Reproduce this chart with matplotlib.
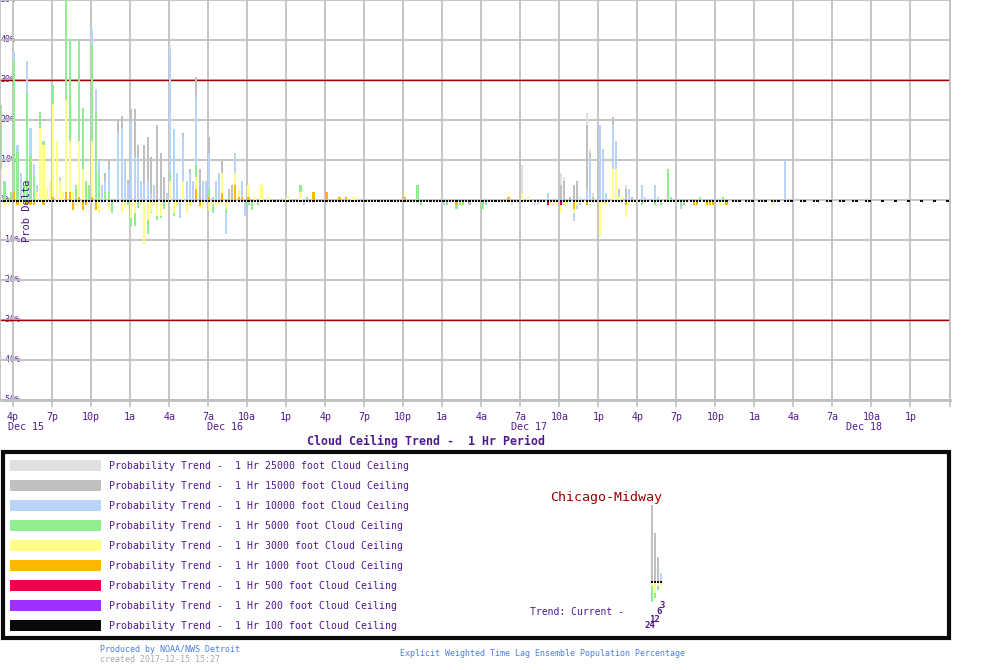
import matplotlib
matplotlib.use("Agg")
import matplotlib.pyplot as plt
from matplotlib.patches import Rectangle

plt.rcParams["font.family"] = ["DejaVu Sans Mono"]

PURPLE = "#4f1a8f"
DARKRED = "#a00000"
GRID = "#c0c0c0"

# bars are every 15 minutes, slot k -> hours after 3p Dec 15
SLOT_HOURS = 0.25

tick_hours = [1, 4, 7, 10, 13, 16, 19, 22, 25, 28, 31, 34, 37, 40, 43, 46, 49, 52, 55, 58, 61, 64, 67, 70]
tick_labels = ["4p", "7p", "10p", "1a", "4a", "7a", "10a", "1p",
               "4p", "7p", "10p", "1a", "4a", "7a", "10a", "1p",
               "4p", "7p", "10p", "1a", "4a", "7a", "10a", "1p"]
date_labels = ["Dec 15", "Dec 16", "Dec 17", "Dec 18"]
date_hours = [2.0, 17.3, 40.7, 66.4]

series_names = ["25000", "15000", "10000", "5000", "3000", "1000", "500", "200", "100"]
series_colors = ["#e0e0e0", "#c0c0c0", "#b8d4f8", "#90ee90", "#ffff88",
                 "#ffb800", "#f0004c", "#a030ff", "#0a0a0a"]

# (slot, prob delta %)
ceil_25000 = [(52, 38.8), (157, -1.2), (160, 8.8), (164, -1.2), (165, -1.2), (172, 6.8),
              (173, 5.8), (178, 0.8), (180, 21.8), (181, 12.8), (182, 1.8), (192, 3.8)]
ceil_15000 = [(32, 6.8), (33, 9.9), (36, 19.9), (37, 20.9), (39, 4.9), (40, 22.8), (41, 22.8),
              (42, 13.8), (44, 13.8), (45, 15.8), (46, 10.8), (48, 18.8), (49, 11.8), (50, 5.8),
              (56, 16.8), (58, 7.8), (60, 30.8), (61, 7.8), (64, 15.8), (68, 9.8), (70, 2.8),
              (71, 3.8), (144, -1.2), (172, 3.8), (173, 4.8), (175, 0.8), (176, 3.8), (177, 4.8),
              (180, 18.8), (181, 11.8), (182, 0.8), (188, 20.8), (190, 2.8), (192, 2.8), (194, 0.8)]
ceil_10000 = [(4, 36.9), (5, 13.8), (6, 6.8), (8, 34.8), (9, 17.9), (10, 8.9), (11, 3.8), (18, 5.8),
              (28, 42.8), (29, 27.8), (30, 9.9), (31, 3.8), (32, 4.8), (33, 7.8), (36, 16.9),
              (37, 17.9), (38, 9.9), (39, 3.8), (40, 19.8), (41, 10.8), (42, 10.8), (43, 4.8),
              (44, 3.8), (45, 4.8), (46, 1.8), (47, 3.8), (51, 1.8), (52, 37.7), (53, 17.8),
              (54, 6.8), (55, -4.4), (56, 15.8), (57, 4.8), (58, 6.8), (59, 4.8), (60, 25.8),
              (62, 4.8), (63, 4.8), (64, 11.8), (65, 0.8), (66, 4.8), (67, 6.8), (69, -8.5),
              (72, 11.8), (74, 4.8), (75, -4.1), (93, -1.2), (136, -1.2), (168, 1.8), (176, -5.3),
              (177, -2.3), (178, -1.3), (180, 2.8), (181, 10.8), (184, 18.8), (185, 12.8),
              (186, 1.8), (188, 18.8), (189, 14.8), (190, 1.8), (193, 2.8), (197, 3.8), (198, 0.8),
              (201, 3.8), (202, 0.8), (209, -2.3), (241, 9.8)]
ceil_5000 = [(0, 23.8), (1, 4.8), (3, 1.9), (4, 34.7), (5, 11.9), (7, 3.8), (8, 26.8), (9, 10.9),
             (10, 5.9), (12, 21.9), (13, 14.8), (16, 28.8), (20, 50.0), (21, 39.9), (23, 3.8),
             (24, 39.9), (25, 22.9), (26, 4.8), (27, 3.8), (28, 38.8), (29, 21.9), (30, 6.8),
             (32, 1.9), (33, 1.9), (34, -3.3), (39, -1.2), (40, -6.4), (41, -6.4), (42, -2.0),
             (45, -8.5), (46, -3.3), (48, -5.0), (49, -4.5), (50, -2.3), (52, 6.8), (53, -4.0),
             (60, 8.8), (64, 2.8), (65, -3.3), (69, -3.3), (76, -1.2), (77, -2.4), (79, -1.2),
             (92, 3.8), (94, 0.8), (128, 3.8), (129, -1.2), (137, -1.2), (140, -2.3), (141, -1.2),
             (142, -1.2), (148, -2.3), (149, -1.2), (197, -1.3), (201, -1.3), (203, -1.3),
             (205, 7.8), (206, 0.8), (209, -1.3), (210, -1.3), (215, 0.8), (222, 0.8)]
ceil_3000 = [(0, 7.8), (1, -1.2), (2, -1.2), (6, -1.2), (7, -1.2), (11, 1.9), (12, 17.9), (13, 13.8),
             (14, 2.9), (15, 4.8), (16, 23.9), (17, 14.8), (18, 4.8), (19, 1.9), (20, 24.9),
             (21, 14.8), (22, 1.9), (23, -1.2), (24, 14.8), (25, 7.8), (28, 14.8), (30, -3.3),
             (33, -2.5), (37, -3.3), (38, -2.0), (40, -4.5), (41, -3.3), (43, -1.2), (44, -11.0),
             (45, -5.0), (46, -3.0), (47, -1.2), (48, -4.0), (49, -4.0), (52, 4.8), (53, -3.3),
             (54, -1.5), (56, 4.8), (57, -3.3), (58, -1.5), (60, 5.8), (61, -2.0), (62, -2.3),
             (64, -2.5), (65, -1.2), (66, -1.2), (67, -1.2), (68, 6.8), (69, -2.3), (70, -1.2),
             (72, 6.8), (73, 2.8), (76, 3.8), (78, 0.8), (80, 3.8), (82, 0.8), (88, 0.8), (92, 1.9),
             (108, 0.8), (109, 0.8), (160, 1.8), (162, 0.8), (169, -1.2), (170, -1.2), (171, -1.2),
             (172, -3.3), (173, -1.2), (174, -1.2), (176, -3.3), (177, -1.2), (184, -9.3),
             (185, -1.3), (186, -1.3), (188, 7.8), (189, 7.8), (190, 0.8), (191, 0.8), (192, -4.3),
             (193, -1.3), (221, -1.3), (237, -1.3)]
ceil_1000 = [(4, 1.9), (5, -1.2), (8, -1.2), (9, -1.2), (10, -1.2), (13, -1.2), (16, 0.8), (20, 1.9),
             (21, 1.9), (22, -2.5), (24, 0.8), (25, -2.5), (26, -1.2), (28, 0.8), (29, -2.5),
             (60, 2.8), (61, -1.4), (64, 0.8), (68, 1.8), (72, 3.8), (73, 0.8), (74, 0.8), (76, 0.8),
             (96, 1.9), (100, 1.9), (104, 0.8), (106, 0.8), (124, 0.8), (140, -1.2), (156, 0.8),
             (176, -2.3), (180, -1.3), (192, -1.3), (213, -1.3), (214, -1.3), (217, -1.3),
             (218, -1.3), (219, -1.3), (223, -1.3)]
ceil_500 = [(168, -1.3), (172, -1.3)]
ceil_200 = []
# 100 ft: a small negative tick in every slot up to slot 223, then thinning out
ceil_100_slots = list(range(0, 224)) + [225, 226, 227, 229, 230, 231, 233, 234, 235, 237, 238, 239,
                                        241, 242, 243, 246, 247, 250, 251, 254, 255, 258, 259,
                                        262, 263, 266, 267, 271, 275, 279, 283, 287, 291]
ceil_100 = [(k, -0.5) for k in ceil_100_slots]

all_series = [ceil_25000, ceil_15000, ceil_10000, ceil_5000, ceil_3000,
              ceil_1000, ceil_500, ceil_200, ceil_100]

# current trend inset (lags 24, 12, 6, 3 hr)
mini_lags = ["24", "12", "6", "3"]
mini_15000 = [18.9, 11.9, 5.9, 0.0]
mini_10000 = [0.0, 0.0, 0.0, 1.9]
mini_5000 = [-5.25, -4.25, -2.3, 0.0]
mini_3000 = [-1.3, -3.1, -1.3, -1.3]
mini_100 = [-0.5, -0.5, -0.5, -0.5]


def px(x0, y0, x1, y1):
    return [x0 / 1000, 1 - y1 / 670, (x1 - x0) / 1000, (y1 - y0) / 670]


fig = plt.figure(figsize=(10, 6.7), dpi=100)
ax = fig.add_axes(px(0, 0, 949.5, 400))
ax.set_xlim(0, 73)
ax.set_ylim(-50, 50)
ax.set_axisbelow(True)
ax.set_xticks(tick_hours + [73])
ax.set_xticklabels(tick_labels + [""], color=PURPLE, fontsize=7.2)
ax.set_yticks(range(-50, 51, 10))
ax.grid(color=GRID, lw=1.3)
ax.tick_params(axis="x", length=5, color=GRID, width=1.2, pad=4)
ax.tick_params(axis="y", left=False, labelleft=False)
ax.spines["top"].set_visible(False)
for s in ["left", "right"]:
    ax.spines[s].set_color(GRID)
    ax.spines[s].set_linewidth(1.3)
ax.spines["bottom"].set_color(GRID)
ax.spines["bottom"].set_linewidth(2)

for data, color in zip(all_series, series_colors):
    if not data:
        continue
    xs = [SLOT_HOURS * k + 0.1 for k, _ in data]
    vs = [v for _, v in data]
    ax.bar(xs, vs, width=0.165, color=color, linewidth=0, antialiased=False, zorder=2)

ax.axhline(30, color=DARKRED, lw=1.0, zorder=1.5)
ax.axhline(-30, color=DARKRED, lw=1.0, zorder=1.5)

for v in range(-50, 51, 10):
    ax.text(0.05, v, f"{v}%", fontsize=6, color=PURPLE, ha="left", va="center", zorder=0.1)
ax.text(2.1, -2.7, "Prob Delta", rotation=90, fontsize=7.5, color=PURPLE,
        ha="center", va="center", zorder=5)

for lab, h in zip(date_labels, date_hours):
    ax.text(h, -0.0675, lab, transform=ax.get_xaxis_transform(), ha="center", va="center",
            fontsize=7.2, color=PURPLE)

fig.text(0.426, 1 - 441 / 670, "Cloud Ceiling Trend -  1 Hr Period", ha="center", va="center",
         fontsize=8.4, fontweight="bold", color=PURPLE)

# legend box
fig.patches.append(Rectangle((3 / 1000, 1 - 638 / 670), 946 / 1000, 186 / 670,
                             transform=fig.transFigure, fill=False, lw=3, ec="#0a0a0a"))
for i, (name, color) in enumerate(zip(series_names, series_colors)):
    fig.patches.append(Rectangle((10 / 1000, 1 - (471 + 20 * i) / 670), 91 / 1000, 11 / 670,
                                 transform=fig.transFigure, fc=color, ec="none"))
    fig.text(109 / 1000, 1 - (466 + 20 * i) / 670,
             f"Probability Trend -  1 Hr {name} foot Cloud Ceiling",
             ha="left", va="center", fontsize=7.1, color=PURPLE)

fig.text(606 / 1000, 1 - 498 / 670, "Chicago-Midway", ha="center", va="center",
         fontsize=9.6, color=DARKRED)

mini = fig.add_axes(px(645, 500, 668, 610))
mini.set_xlim(-2.33, 5.33)
mini.set_ylim(-7.3, 20.2)
mini.axis("off")
mx = range(len(mini_lags))
for vals, color in [(mini_15000, series_colors[1]), (mini_10000, series_colors[2]),
                    (mini_5000, series_colors[3]), (mini_3000, series_colors[4]),
                    (mini_100, series_colors[8])]:
    mini.bar(mx, vals, width=0.67, color=color, linewidth=0, antialiased=False)

fig.text(530 / 1000, 1 - 612 / 670, "Trend: Current -", ha="left", va="center",
         fontsize=7, color=PURPLE)
for lab, (x, y) in zip(mini_lags, [(650, 626), (655, 619), (659, 612), (662, 605)]):
    fig.text(x / 1000, 1 - y / 670, lab, ha="center", va="center", fontsize=6.5,
             fontweight="bold", color=PURPLE)

fig.text(100 / 1000, 1 - 649 / 670, "Produced by NOAA/NWS Detroit", ha="left", va="center",
         fontsize=6, color="#4a7fe0")
fig.text(100 / 1000, 1 - 659 / 670, "created 2017-12-15 15:27", ha="left", va="center",
         fontsize=6, color="#a8a8a8")
fig.text(400 / 1000, 1 - 654 / 670, "Explicit Weighted Time Lag Ensemble Population Percentage",
         ha="left", va="center", fontsize=6, color="#4a7fe0")

fig.savefig("out.png", dpi=100)
